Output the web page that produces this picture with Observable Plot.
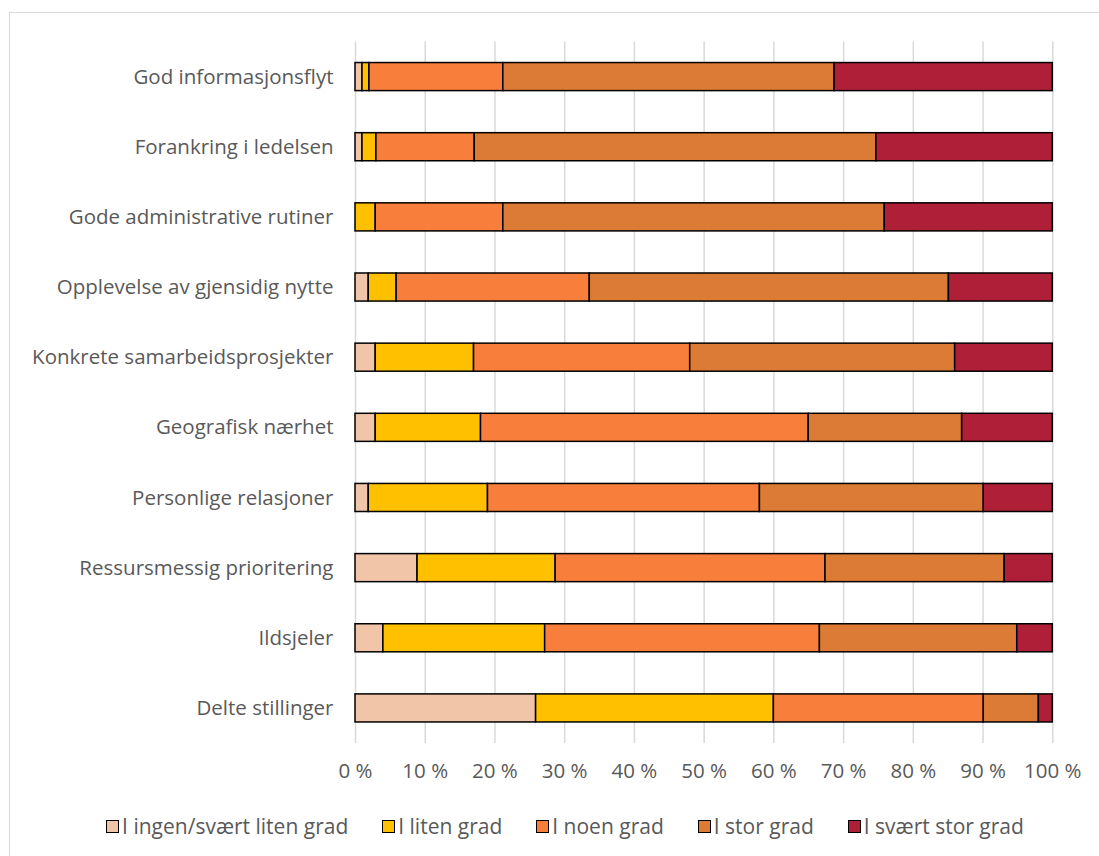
<!DOCTYPE html>
<html>
<head>
<meta charset="utf-8">
<script src="https://cdn.jsdelivr.net/npm/d3@7"></script>
<script src="https://cdn.jsdelivr.net/npm/@observablehq/plot@0.6"></script>
<style>
  html, body { margin: 0; padding: 0; background: #fff; }
  body { width: 1099px; height: 856px; overflow: hidden; position: relative; font-family: "Open Sans", sans-serif; }
  #frame { position: absolute; left: 9px; top: 12px; width: 1200px; height: 1000px; border: 1.5px solid #d9d9d9; box-sizing: border-box; }
  #chart { position: absolute; left: 0; top: 0; }
  #legend { position: absolute; left: 0; top: 812px; width: 1130px; display: flex; justify-content: center; gap: 34px; font-size: 21px; color: #595959; }
  .item { display: flex; align-items: center; white-space: nowrap; }
  .sw { width: 11px; height: 11px; border: 1.5px solid #000; margin-right: 3px; }
</style>
</head>
<body>
<div id="frame"></div>
<div id="chart"></div>
<div id="legend"></div>
<script>
const categories = [
  "God informasjonsflyt",
  "Forankring i ledelsen",
  "Gode administrative rutiner",
  "Opplevelse av gjensidig nytte",
  "Konkrete samarbeidsprosjekter",
  "Geografisk nærhet",
  "Personlige relasjoner",
  "Ressursmessig prioritering",
  "Ildsjeler",
  "Delte stillinger"
];
const seriesNames = ["I ingen/svært liten grad", "I liten grad", "I noen grad", "I stor grad", "I svært stor grad"];
const seriesColors = ["#F1C6A8", "#FFC000", "#F77E3B", "#DB7B35", "#AF2038"];
const ingen      = [1.0, 1.0, 0.0, 1.9, 2.9, 2.9, 1.9, 8.9, 4.0, 25.9];
const liten      = [1.0, 2.0, 2.9, 4.0, 14.1, 15.1, 17.1, 19.8, 23.2, 34.1];
const noen       = [19.2, 14.1, 18.3, 27.7, 31.0, 47.0, 39.0, 38.7, 39.4, 30.1];
const stor       = [47.5, 57.6, 54.7, 51.5, 38.0, 22.0, 32.1, 25.7, 28.3, 7.9];
const sværtStor  = [31.3, 25.3, 24.1, 14.9, 14.0, 13.0, 9.9, 6.9, 5.1, 2.0];
const xTicks = [0, 10, 20, 30, 40, 50, 60, 70, 80, 90, 100];

const seriesValues = [ingen, liten, noen, stor, sværtStor];
const data = [];
categories.forEach((c, i) => {
  seriesNames.forEach((s, j) => {
    data.push({category: c, series: s, value: seriesValues[j][i]});
  });
});

const chart = Plot.plot({
  width: 1099,
  height: 800,
  marginLeft: 355,
  marginRight: 46.7,
  marginTop: 41.5,
  marginBottom: 57,
  style: { fontFamily: "'Open Sans', sans-serif", fontSize: "20.5px", color: "#595959", background: "transparent" },
  x: { domain: [0, 100], ticks: xTicks, tickFormat: d => d + " %", tickSize: 0, tickPadding: 20, label: null },
  y: { domain: categories, paddingInner: 0.6, paddingOuter: 0.3, round: false, tickSize: 0, tickPadding: 22, label: null },
  color: { domain: seriesNames, range: seriesColors },
  marks: [
    Plot.gridX(xTicks, { stroke: "#d9d9d9", strokeOpacity: 1, strokeWidth: 1.5 }),
    Plot.barX(data, { x: "value", y: "category", fill: "series", stroke: "#000", strokeWidth: 1.5, order: seriesNames }),
    Plot.axisX({ ticks: xTicks, tickFormat: d => d + " %", tickSize: 0, tickPadding: 20, fill: "#595959" }),
    Plot.axisY({ tickSize: 0, tickPadding: 22, fill: "#595959" })
  ]
});
document.getElementById("chart").appendChild(chart);

const legend = document.getElementById("legend");
seriesNames.forEach((s, j) => {
  const it = document.createElement("div");
  it.className = "item";
  const sw = document.createElement("div");
  sw.className = "sw";
  sw.style.background = seriesColors[j];
  it.appendChild(sw);
  const t = document.createElement("span");
  t.textContent = s;
  it.appendChild(t);
  legend.appendChild(it);
});
</script>
</body>
</html>
